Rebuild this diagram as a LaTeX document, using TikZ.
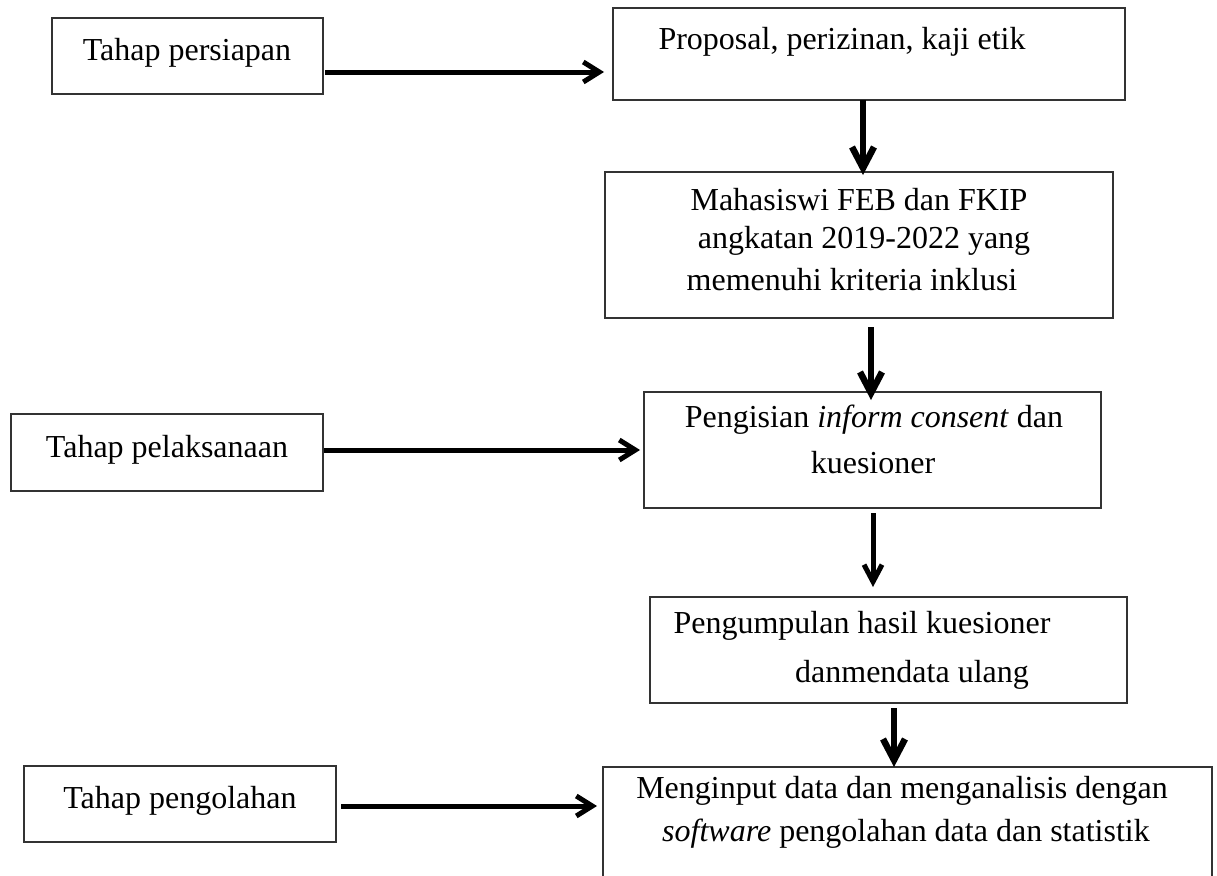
\documentclass[tikz,border=0pt]{standalone}
\usepackage{fontspec}
\setmainfont{Liberation Serif}
\usetikzlibrary{arrows.meta}
\begin{document}
\begin{tikzpicture}[x=1pt,y=-1pt,
  box/.style={draw=black!80, line width=1.3pt, inner sep=0pt, outer sep=0pt, anchor=north west},
  txt/.style={font=\fontsize{32}{38}\selectfont, inner sep=0pt, anchor=base},
  harr/.style={line width=5pt, -{Straight Barb[length=16pt,width=20pt]}},
  varr/.style={line width=6.5pt, -{Straight Barb[length=21pt,width=22pt]}},
  tarr/.style={line width=5pt, -{Straight Barb[length=17pt,width=18pt]}}]
\useasboundingbox (0,0) rectangle (1217,875);
\clip (0,0) rectangle (1217,875);
% boxes
\node[box, minimum width=271pt, minimum height=76pt]  (A) at (52,18)   {};
\node[box, minimum width=512pt, minimum height=92pt]  (B) at (613,8)   {};
\node[box, minimum width=508pt, minimum height=146pt] (C) at (605,172) {};
\node[box, minimum width=457pt, minimum height=116pt] (D) at (644,392) {};
\node[box, minimum width=477pt, minimum height=106pt] (E) at (650,597) {};
\node[box, minimum width=609pt, minimum height=125pt] (F) at (603,767) {};
\node[box, minimum width=312pt, minimum height=77pt]  (P) at (11,414)  {};
\node[box, minimum width=312pt, minimum height=76pt]  (G) at (24,766)  {};
% texts
\node[txt] (tA)  at (187,60)  {Tahap persiapan};
\node[txt] (tB)  at (842,50)  {Proposal, perizinan, kaji etik};
\node[txt] (tC1) at (859,210) {Mahasiswi FEB dan FKIP};
\node[txt] (tC2) at (864,248) {angkatan 2019-2022 yang};
\node[txt] (tC3) at (852,290) {memenuhi kriteria inklusi};
\node[txt] (tD1) at (874,427) {Pengisian \textit{inform consent} dan};
\node[txt] (tD2) at (873,473) {kuesioner};
\node[txt] (tE1) at (862,633) {Pengumpulan hasil kuesioner};
\node[txt] (tE2) at (912,682) {danmendata ulang};
\node[txt] (tF1) at (902,798) {Menginput data dan menganalisis dengan};
\node[txt] (tF2) at (906,841) {\textit{software} pengolahan data dan statistik};
\node[txt] (tP)  at (167,457) {Tahap pelaksanaan};
\node[txt] (tG)  at (180,808) {Tahap pengolahan};
% connector guides
\coordinate (yAB) at (0,72);
\coordinate (yPD) at (0,450);
\coordinate (yGF) at (0,806);
\coordinate (xBC) at (863,0);
\coordinate (xCD) at (871,0);
\coordinate (xDE) at (873,0);
\coordinate (xEF) at (894,0);
% connectors
\draw[harr, shorten <=2pt, shorten >=9pt] (A.east |- yAB) -- (B.west |- yAB);
\draw[harr, shorten <=1pt, shorten >=4pt] (P.east |- yPD) -- (D.west |- yPD);
\draw[harr, shorten <=5pt, shorten >=6pt] (G.east |- yGF) -- (F.west |- yGF);
\draw[varr, shorten <=0pt, shorten >=-3pt] (B.south -| xBC) -- (C.north -| xBC);
\draw[varr, shorten <=9pt, shorten >=-8pt] (C.south -| xCD) -- (D.north -| xCD);
\draw[tarr, shorten <=5pt, shorten >=10pt] (D.south -| xDE) -- (E.north -| xDE);
\draw[varr, shorten <=5pt, shorten >=0pt] (E.south -| xEF) -- (F.north -| xEF);
\end{tikzpicture}
\end{document}
